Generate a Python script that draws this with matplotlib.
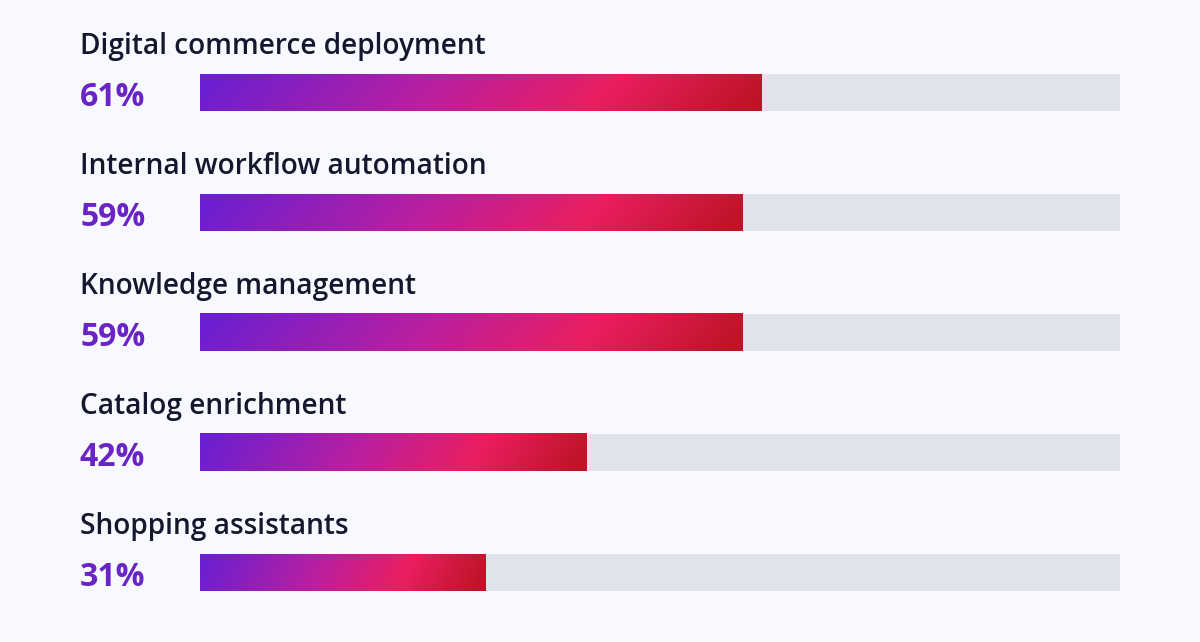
import numpy as np
import matplotlib
matplotlib.use("Agg")
import matplotlib.pyplot as plt
from matplotlib.colors import LinearSegmentedColormap
from matplotlib.transforms import blended_transform_factory

categories = ["Digital commerce deployment", "Internal workflow automation",
              "Knowledge management", "Catalog enrichment", "Shopping assistants"]
values = [61, 59, 59, 42, 31]

bg = "#f8f9fe"
track = "#dfe3ec"
label_col = "#16162e"
pct_col = "#6a24c6"

grad = LinearSegmentedColormap.from_list(
    "g", [(0.0, "#6c1fd1"), (0.42, "#bc1f9e"), (0.72, "#ea1e60"), (1.0, "#bf1428")])

fig = plt.figure(figsize=(12, 6.42), dpi=100, facecolor=bg)
ax = fig.add_axes([200 / 1200, 0, 920 / 1200, 1])
ax.set_facecolor(bg)
ax.set_xlim(0, 100)
ax.set_ylim((642 - 92.5) / 120, -92.5 / 120)
ax.axis("off")

h = 37 / 120
xs = np.linspace(0, 1, 400)
ys = np.linspace(0, 1, 20)
X, Y = np.meshgrid(xs, ys)
img = np.clip(X + 0.06 * (Y - 0.5), 0, 1)

trans = blended_transform_factory(fig.transFigure, ax.transData)
for i, (cat, v) in enumerate(zip(categories, values)):
    ax.barh(i, 100, height=h, color=track, zorder=1)
    ax.imshow(img, cmap=grad, extent=[0, v, i + h / 2, i - h / 2],
              aspect="auto", zorder=2, interpolation="bilinear")
    ax.text(80 / 1200, i - 0.385, cat, transform=trans, ha="left", va="center",
            fontsize=20.2, fontweight="semibold", family="Open Sans",
            color=label_col, clip_on=False)
    ax.text(80 / 1200, i + 0.04, f"{v}%", transform=trans, ha="left", va="center",
            fontsize=23, fontweight="bold", family="Open Sans",
            color=pct_col, clip_on=False)

ax.set_xlim(0, 100)
ax.set_ylim((642 - 92.5) / 120, -92.5 / 120)
fig.savefig("out.png", dpi=100, facecolor=bg)
